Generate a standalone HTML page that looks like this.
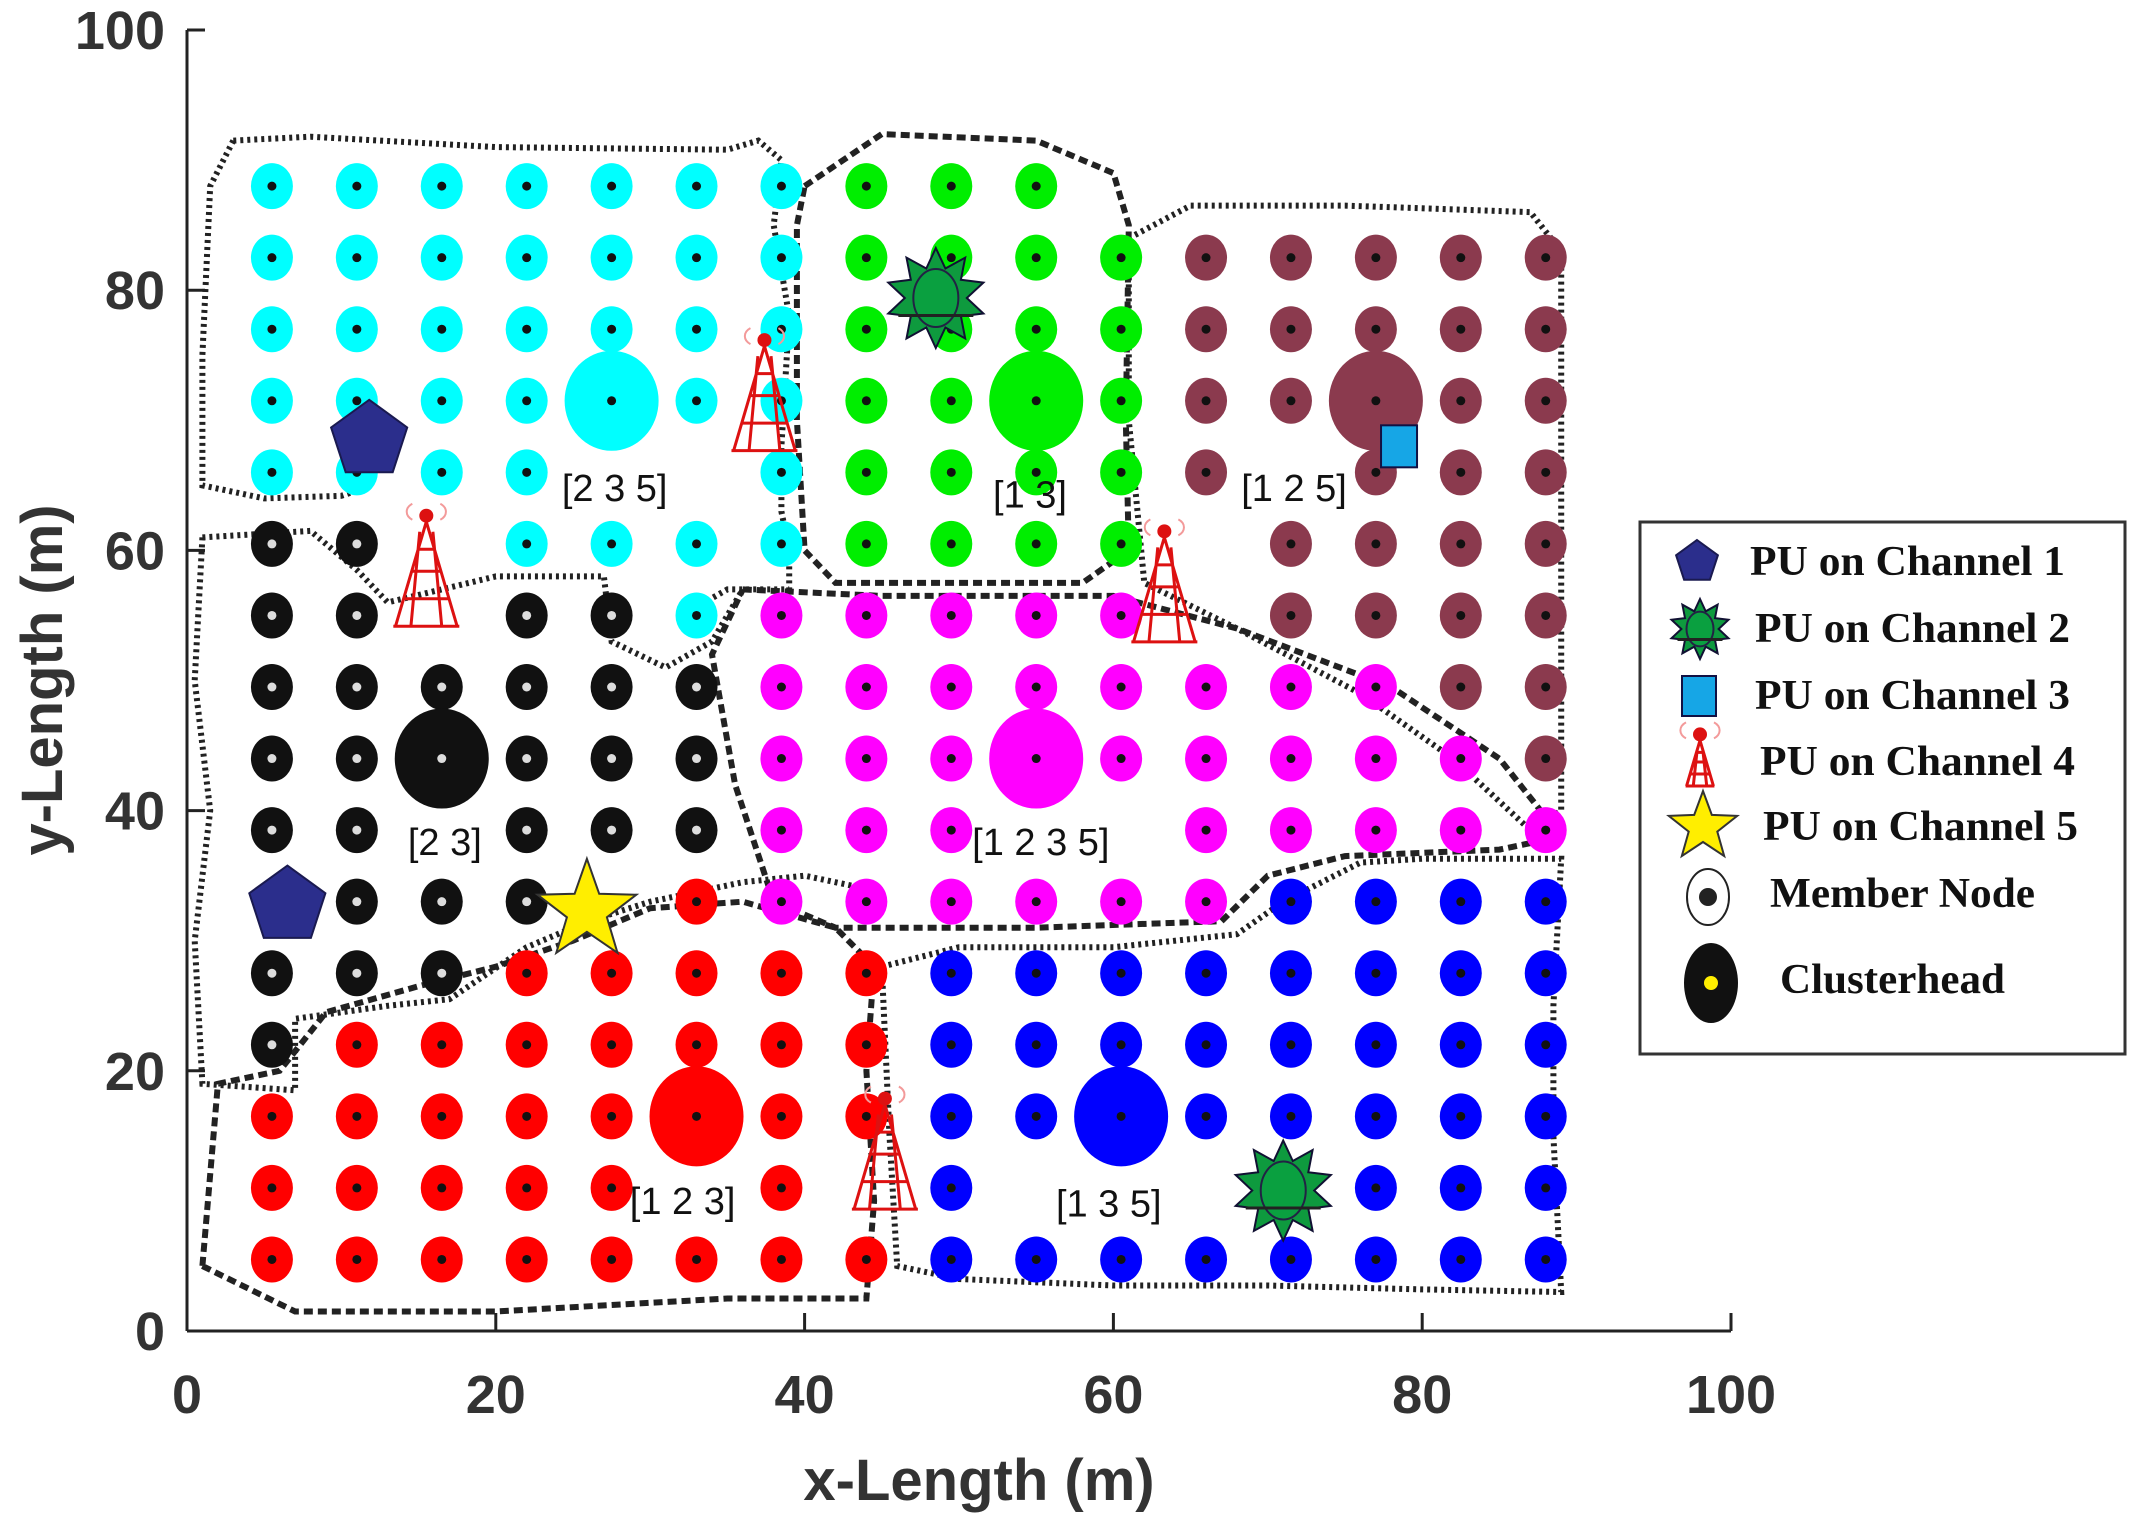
<!DOCTYPE html>
<html><head><meta charset="utf-8"><style>
html,body{margin:0;padding:0;background:#fff;}
svg{display:block;}
</style></head><body>
<svg id="chart" width="2136" height="1517" viewBox="0 0 2136 1517" xmlns="http://www.w3.org/2000/svg" font-family="Liberation Sans, sans-serif">
<g id="bounds" fill="none" stroke="#222" stroke-width="6"></g>
<g id="nodes"></g>
<g id="labels"></g>
<g id="pus"></g>
<g id="axes"></g>
<g id="legend"></g>
</svg>
<script>
const gridRows = [
"cccccccggg......",
"cccccccggggmmmmm",
"cccccccggggmmmmm",
"cccccccggggmmmmm",
"cccc..cggggm.mmm",
"kk.ccccgggg.mmmm",
"kk.kkcppppp.mmmm",
"kkkkkkppppppppmm",
"kkkkkkpppppppppm",
"kk.kkkppp..ppppp",
".kkk.rppppppbbbb",
"kkkrrrrrbbbbbbbb",
"krrrrrrrbbbbbbbb",
"rrrrrrrrbbbbbbbb",
"rrrrr.r.b...bbbb",
"rrrrrrrrbbbbbbbb"];
const gridStep = 5.5;
const chCols = [5,10,14,3,10,6,11];
const chRows = [13,13,13,8,8,3,3];
const chKeys = ["c","g","m","k","p","r","b"];
const clusterLabels = ["[2 3 5]","[1 3]","[1 2 5]","[2 3]","[1 2 3 5]","[1 2 3]","[1 3 5]"];
const labelX = [27.7,54.6,71.7,16.7,55.3,32.1,59.7];
const labelY = [64.8,64.3,64.8,37.6,37.6,10,9.8];
const pu1X = [11.8,6.5], pu1Y = [68.5,32.7];
const pu2X = [48.5,71], pu2Y = [79.4,10.8];
const pu3X = [78.5], pu3Y = [68];
const pu4X = [37.4,15.5,63.3,45.2], pu4Y = [71.9,58.4,57.2,13.6];
const pu5X = [25.9], pu5Y = [32.3];
const ticks = [0,20,40,60,80,100];
const boundaries = [
 {d:"3 4", pts:[[3,91.5],[8,91.8],[20,91],[35,90.8],[37,91.5],[38.5,90],[38,85],[39,78],[38.5,68],[38.5,63],[39,60],[39,57],[35,57],[32,55]]},
 {d:"3 4", pts:[[3,91.5],[1.5,88],[1,75],[1,65],[5,64],[10,64.2],[12,65]]},
 {d:"9 5", pts:[[40,88],[45,92],[55,91.5],[60,89],[61,85],[60.8,70],[61,60],[58,57.5],[42,57.5],[40,60],[39.5,70],[39.5,85],[40,88]]},
 {d:"3 4", pts:[[61,84],[65,86.5],[75,86.5],[87,86],[89,83],[89,60],[89,40],[87,38.5],[82,44],[76,49],[68,54],[62,57.5],[61,70],[61,84]]},
 {d:"9 5", pts:[[36,57],[45,56.5],[60,56.5],[68,54],[78,49.5],[85,44],[89,38],[85,37],[75,36.5],[70,35],[67,31.5],[55,31],[42,31],[38,33],[35.5,42],[34,52],[36,57]]},
 {d:"3 4", pts:[[1,61],[8,61.5],[11,58.5],[13,56],[20,58],[27,58],[27.5,53],[31,51],[34,53],[36,57]]},
 {d:"3 4", pts:[[1,61],[0.5,50],[1.5,40],[0.5,30],[1,19],[7,18.5],[7,24],[13,25],[17,25.5],[22,29.5],[26,31.5],[30,33],[36,34.5],[40,35],[44,34]]},
 {d:"9 5", pts:[[1,5],[7,1.5],[20,1.5],[35,2.5],[44,2.5],[44.5,10],[44,20],[44.5,28],[42,31],[36,33],[30,32.5],[25,30],[20,28],[15,26.5],[9,24.5],[6,20],[2,19],[1,5]]},
 {d:"3 4", pts:[[45,28],[50,29.5],[60,29.5],[68,30.5],[71,33],[76,36],[80,36.3],[89,36.3],[88.5,25],[88.5,15],[89,3],[80,3.2],[70,3.5],[60,3.5],[50,4],[46,5],[45.5,15],[45,28]]}
];

const X = v => 187 + v*15.44;
const Y = v => 1331 - v*13.01;
const NS = "http://www.w3.org/2000/svg";
const colors = {c:"#00ffff",g:"#00ee00",m:"#8b3a4e",k:"#111111",p:"#ff00ff",r:"#ff0000",b:"#0000ff"};
function mk(tag, parent, attrs){const e=document.createElementNS(NS,tag);for(const k in attrs)e.setAttribute(k,attrs[k]);parent.appendChild(e);return e;}

const gB=document.getElementById('bounds');
boundaries.forEach(b=>{
  const p=mk('path',gB,{d:"M"+b.pts.map(q=>X(q[0]).toFixed(1)+","+Y(q[1]).toFixed(1)).join(" L"),"stroke-dasharray":b.d});
  
  
});

const gN=document.getElementById('nodes');
gridRows.forEach((row,ri)=>{
  const j=16-ri;
  for(let ci=0;ci<16;ci++){
    const ch=row[ci]; if(ch===".") continue;
    const k=ci+1;
    let isCH=false; chKeys.forEach((key,i)=>{if(chCols[i]===k&&chRows[i]===j)isCH=true;});
    if(isCH) continue;
    const cx=X(k*gridStep), cy=Y(j*gridStep);
    const e=mk('ellipse',gN,{cx:cx,cy:cy,rx:21,ry:23,fill:colors[ch]});
    
    
    mk('circle',gN,{cx:cx,cy:cy,r:4.5,fill:ch==="k"?"#ddd":"#111"});
  }
});
chKeys.forEach((key,i)=>{
  const cx=X(chCols[i]*gridStep), cy=Y(chRows[i]*gridStep);
  const e=mk('ellipse',gN,{cx:cx,cy:cy,rx:47,ry:50,fill:colors[key]});
  
  
  mk('circle',gN,{cx:cx,cy:cy,r:4.5,fill:key==="k"?"#ddd":"#111"});
});

const gL=document.getElementById('labels');
clusterLabels.forEach((t,i)=>{
  const e=mk('text',gL,{x:X(labelX[i]),y:Y(labelY[i])+13,"font-size":38,"text-anchor":"middle",fill:"#111"});
  e.textContent=t;
  
  
});

function starPts(cx,cy,n,ro,ri){let s=[];for(let i=0;i<2*n;i++){const a=-Math.PI/2+i*Math.PI/n;const r=i%2?ri:ro;s.push((cx+r*Math.cos(a)).toFixed(1)+","+(cy+r*Math.sin(a)).toFixed(1));}return s.join(" ");}
function pentagon(g,cx,cy,r){return mk('polygon',g,{points:starPts(cx,cy,5,r,r*0.81).split(" ").filter((_,i)=>i%2===0).join(" "),fill:"#2b2e8c",stroke:"#1a1a50","stroke-width":2});}
function greenStar(g,cx,cy,s){mk('polygon',g,{points:starPts(cx,cy,10,s,s*0.62),fill:"#0e9a3e",stroke:"#113",["stroke-width"]:2});mk('ellipse',g,{cx:cx,cy:cy,rx:s*0.45,ry:s*0.58,fill:"#0aa040",stroke:"#224","stroke-width":2});mk('line',g,{x1:cx-s*0.75,y1:cy+s*0.35,x2:cx+s*0.75,y2:cy+s*0.35,stroke:"#222","stroke-width":3});}
function tower(g,cx,cy,s){
  const t=mk('g',g,{stroke:"#dd1111","stroke-width":3,fill:"none"});
  const top=cy-s*0.45, bot=cy+s*0.5;
  mk('path',t,{d:`M${cx},${top} L${cx-s*0.28},${bot} M${cx},${top} L${cx+s*0.28},${bot} M${cx-s*0.06},${top+10} L${cx-s*0.14},${bot} M${cx+s*0.06},${top+10} L${cx+s*0.14},${bot} M${cx-s*0.14},${cy} L${cx+s*0.14},${cy} M${cx-s*0.2},${cy+s*0.25} L${cx+s*0.2},${cy+s*0.25} M${cx-s*0.08},${cy-s*0.2} L${cx+s*0.08},${cy-s*0.2} M${cx-s*0.3},${bot} L${cx+s*0.3},${bot}`});
  mk('circle',t,{cx:cx,cy:top-6,r:7,fill:"#dd1111",stroke:"none"});
  mk('path',t,{d:`M${cx-14},${top-18} a14,10 0 0,0 0,16 M${cx+14},${top-18} a14,10 0 0,1 0,16`,stroke:"#f39a9a","stroke-width":2});
  return t;
}
const gP=document.getElementById('pus');
pu1X.forEach((v,i)=>{const e=pentagon(gP,X(v),Y(pu1Y[i]),40);});
pu2X.forEach((v,i)=>{greenStar(gP,X(v),Y(pu2Y[i]),50);});
pu3X.forEach((v,i)=>{const e=mk('rect',gP,{x:X(v)-18,y:Y(pu3Y[i])-21,width:36,height:42,fill:"#16a6e6",stroke:"#114","stroke-width":2});});
pu4X.forEach((v,i)=>{const e=tower(gP,X(v),Y(pu4Y[i]),110);});
pu5X.forEach((v,i)=>{const e=mk('polygon',gP,{points:starPts(X(v),Y(pu5Y[i]),5,52,21),fill:"#ffee00",stroke:"#333","stroke-width":2});});

const gA=document.getElementById('axes');
mk('line',gA,{x1:X(0),y1:Y(100),x2:X(0),y2:Y(0),stroke:"#222","stroke-width":3});
mk('line',gA,{x1:X(0),y1:Y(0),x2:X(100),y2:Y(0),stroke:"#222","stroke-width":3});
ticks.forEach(t=>{
  mk('line',gA,{x1:X(0),y1:Y(t),x2:X(0)+18,y2:Y(t),stroke:"#222","stroke-width":3});
  mk('line',gA,{x1:X(t),y1:Y(0),x2:X(t),y2:Y(0)-18,stroke:"#222","stroke-width":3});
  const yl=mk('text',gA,{x:X(0)-22,y:Y(t)+19,"font-size":54,"font-weight":"bold","text-anchor":"end",fill:"#333"});yl.textContent=t;
  
  
  const xl=mk('text',gA,{x:X(t),y:1413,"font-size":54,"font-weight":"bold","text-anchor":"middle",fill:"#333"});xl.textContent=t;
  
  
});
const xt=mk('text',gA,{x:979,y:1500,"font-size":58,"font-weight":"bold","text-anchor":"middle",fill:"#333"});xt.textContent="x-Length (m)";


const yt=mk('text',gA,{x:62,y:680,"font-size":58,"font-weight":"bold","text-anchor":"middle",fill:"#333",transform:"rotate(-90 62 680)"});yt.textContent="y-Length (m)";



const gLg=document.getElementById('legend');
mk('rect',gLg,{x:1640,y:522,width:485,height:532,fill:"#fff",stroke:"#333","stroke-width":3});
const legText=["PU on Channel 1","PU on Channel 2","PU on Channel 3","PU on Channel 4","PU on Channel 5","Member Node","Clusterhead"];
const legY=[562,629,696,762,827,894,980];
const legTX=[1750,1755,1755,1760,1763,1770,1780];
pentagon(gLg,1697,legY[0],22);
greenStar(gLg,1700,legY[1],30);
mk('rect',gLg,{x:1682,y:legY[2]-20,width:34,height:40,fill:"#16a6e6",stroke:"#114","stroke-width":2});
tower(gLg,1700,legY[3],48);
mk('polygon',gLg,{points:starPts(1703,legY[4],5,36,15),fill:"#ffee00",stroke:"#333","stroke-width":2});
mk('ellipse',gLg,{cx:1708,cy:legY[5]+3,rx:21,ry:28,fill:"#fff",stroke:"#222","stroke-width":2});
mk('circle',gLg,{cx:1708,cy:legY[5]+3,r:9,fill:"#222"});
mk('ellipse',gLg,{cx:1711,cy:legY[6]+3,rx:27,ry:40,fill:"#111"});
mk('circle',gLg,{cx:1711,cy:legY[6]+3,r:7,fill:"#ffee00"});
legText.forEach((t,i)=>{
  const e=mk('text',gLg,{x:legTX[i],y:legY[i]+13,"font-size":42,"font-family":"Liberation Serif, serif","font-weight":"bold",fill:"#111",textLength:i<5?315:(i===5?265:225),lengthAdjust:"spacingAndGlyphs"});
  e.textContent=t;
  
  
});
</script>
</body></html>
